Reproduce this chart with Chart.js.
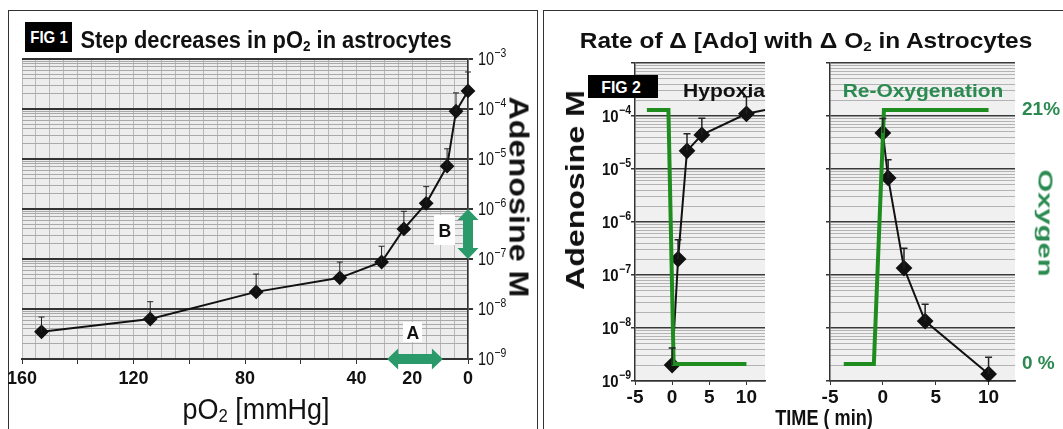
<!DOCTYPE html>
<html>
<head>
<meta charset="utf-8">
<script src="https://cdn.jsdelivr.net/npm/chart.js@4/dist/chart.umd.min.js"></script>
<style>
  body { margin: 0; width: 1063px; height: 429px; overflow: hidden; position: relative; background: #fff;
         font-family: 'Liberation Sans', Arial, sans-serif; }
  .wrap { position: absolute; }
  .panel { position: absolute; border: 1px solid #333; border-bottom: none; }
  .blk { position: absolute; }
  .lbl { position: absolute; left: 0; top: 0; white-space: nowrap; line-height: 1; }
  .lbl sub { font-size: 0.62em; vertical-align: -0.22em; line-height: 0; }
</style>
</head>
<body>
<div class="panel" style="left:8px;top:10px;width:528px;height:430px"></div>
<div class="panel" style="left:543px;top:10px;width:530px;height:430px"></div>

<div class="wrap" style="left:0;top:0"><canvas id="c1" width="540" height="429"></canvas></div>
<div class="wrap" style="left:545px;top:0"><canvas id="c2" width="270" height="429"></canvas></div>
<div class="wrap" style="left:815px;top:0"><canvas id="c3" width="248" height="429"></canvas></div>

<script>
// FIG 1: adenosine vs pO2 (step decreases)
const pO2 = [153, 114, 76, 46, 31, 23, 15, 7.5, 4.3, 0];
const ado1 = [3.5e-9, 6.3e-9, 2.2e-8, 4.2e-8, 8.7e-8, 4.0e-7, 1.3e-6, 7.2e-6, 9.0e-5, 2.3e-4];
const ado1Err = [6.9e-9, 1.4e-8, 5.0e-8, 8.7e-8, 1.8e-7, 9.0e-7, 2.8e-6, 1.6e-5, 2.1e-4, 5.5e-4];
const pO2Labels = [160, 120, 80, 40, 20, 0];

// FIG 2: hypoxia
const hypT = [0, 0.8, 2, 4, 10, 12.5];
const hypAdo = [2.0e-9, 2.0e-7, 2.2e-5, 4.4e-5, 1.1e-4, 1.3e-4];
const hypErr = [4.2e-9, 4.6e-7, 4.6e-5, 9.1e-5, 2.3e-4, null];
const hypO2T = [-3.4, -0.5, 0.2, 10];
const hypO2 = [21, 21, 0, 0];

// FIG 2: re-oxygenation
const reoT = [0, 0.5, 2, 4, 10];
const reoAdo = [4.8e-5, 6.8e-6, 1.35e-7, 1.35e-8, 1.35e-9];
const reoErr = [9.0e-5, 1.5e-5, 3.2e-7, 2.8e-8, 2.8e-9];
const reoO2T = [-3.7, -0.85, 0.1, 10];
const reoO2 = [0, 0, 21, 21];

const timeTicks = [-5, 0, 5, 10];
const o2Ticks = [0, 21];
const o2Labels = ['0 %', '21%'];
const decades = [-9, -8, -7, -6, -5, -4];
const fig1Exp = [-9, -8, -7, -6, -5, -4, -3];
const fig2Exp = [-9, -8, -7, -6, -5, -4];

// arrows A and B on FIG 1 (data units)
const arrowA = { x: [29, 9], y: [1e-9, 1e-9] };
const arrowB = { x: [0, 0], y: [1e-6, 1e-7] };

const FONT = "'Liberation Sans Narrow', 'Liberation Sans', Arial, sans-serif";
const GREEN_LINE = '#1e8c1e';
const GREEN_TXT = '#2a8a50';

// log grid: 1..9 per decade plus the top
const logTicks = [];
decades.forEach(e => { for (let m = 1; m <= 9; m++) logTicks.push(m * Math.pow(10, e)); });
logTicks.push(1e-3);
const pO2Grid = [];
for (let v = 0; v <= 160; v += 5) pO2Grid.push(v);

function isDecade(v) { const l = Math.log10(v); return Math.abs(l - Math.round(l)) < 1e-6; }
function tv(c) { return c.tick ? c.tick.value : 1; }

const plotBg = {
  id: 'plotBg',
  beforeDraw(chart, args, opts) {
    const a = chart.chartArea, ctx = chart.ctx;
    ctx.save();
    ctx.fillStyle = opts.color || '#eee';
    ctx.fillRect(a.left, a.top, a.right - a.left, a.bottom - a.top);
    ctx.restore();
  }
};

// "10" with a raised exponent, placed at each decade of the log axis
const powTicks = {
  id: 'powTicks',
  afterDraw(chart, args, opts) {
    if (!opts.exps) return;
    const ctx = chart.ctx, s = chart.scales.y;
    const w = opts.weight || 'normal', size = opts.size, es = Math.round(size * 0.72), k = opts.squeeze || 1;
    ctx.save();
    ctx.fillStyle = '#111';
    ctx.textBaseline = 'middle';
    ctx.textAlign = 'left';
    opts.exps.forEach(e => {
      const y = s.getPixelForValue(Math.pow(10, e));
      const ex = String(e).replace('-', '\u2212');
      ctx.font = w + ' ' + size + 'px ' + FONT;
      const w1 = ctx.measureText('10').width;
      ctx.font = w + ' ' + es + 'px ' + FONT;
      const w2 = ctx.measureText(ex).width;
      const x = opts.align === 'right' ? opts.x - k * (w1 + w2 + 0.5) : opts.x;
      ctx.save();
      ctx.translate(x, y);
      ctx.scale(k, 1);
      ctx.font = w + ' ' + size + 'px ' + FONT;
      ctx.fillText('10', 0, 1);
      ctx.font = w + ' ' + es + 'px ' + FONT;
      ctx.fillText(ex, w1 + 0.5, -size * 0.32);
      ctx.restore();
    });
    ctx.restore();
  }
};

const errorBars = {
  id: 'errorBars',
  afterDatasetsDraw(chart) {
    const ctx = chart.ctx;
    chart.data.datasets.forEach((ds, i) => {
      if (!ds.errHi) return;
      const meta = chart.getDatasetMeta(i);
      const ys = chart.scales[meta.yAxisID];
      ctx.save();
      ctx.strokeStyle = '#222';
      ctx.lineWidth = ds.errWidth || 1;
      meta.data.forEach((pt, j) => {
        const hi = ds.errHi[j];
        if (hi == null) return;
        const top = ys.getPixelForValue(hi);
        ctx.beginPath();
        ctx.moveTo(pt.x, pt.y); ctx.lineTo(pt.x, top);
        ctx.moveTo(pt.x - ds.errCap, top); ctx.lineTo(pt.x + ds.errCap, top);
        ctx.stroke();
      });
      ctx.restore();
    });
  }
};

const arrows = {
  id: 'arrows',
  afterDraw(chart, args, opts) {
    const ctx = chart.ctx, xs = chart.scales.x, ys = chart.scales.y;
    (opts.items || []).forEach(a => {
      const x0 = xs.getPixelForValue(a.x[0]), y0 = ys.getPixelForValue(a.y[0]);
      const x1 = xs.getPixelForValue(a.x[1]), y1 = ys.getPixelForValue(a.y[1]);
      const L = Math.hypot(x1 - x0, y1 - y0), dx = (x1 - x0) / L, dy = (y1 - y0) / L;
      const nx = -dy, ny = dx, sw = 5, hw = 10.5, hl = 11;
      const pts = [[0, 0], [hl, -hw], [hl, -sw], [L - hl, -sw], [L - hl, -hw], [L, 0],
                   [L - hl, hw], [L - hl, sw], [hl, sw], [hl, hw]];
      ctx.save();
      ctx.fillStyle = '#2b9a6a';
      ctx.beginPath();
      pts.forEach(([u, v], k) => {
        const px = x0 + u * dx + v * nx, py = y0 + u * dy + v * ny;
        k ? ctx.lineTo(px, py) : ctx.moveTo(px, py);
      });
      ctx.closePath();
      ctx.fill();
      ctx.restore();
    });
  }
};

const base = { responsive: false, animation: false, events: [] };

// ---------- FIG 1 ----------
new Chart(document.getElementById('c1'), {
  type: 'line',
  data: {
    datasets: [{
      data: pO2.map((x, i) => ({ x: x, y: ado1[i] })),
      borderColor: '#111', borderWidth: 2, tension: 0, clip: false,
      pointStyle: 'rectRot', pointRadius: 6, pointBackgroundColor: '#111', pointBorderColor: '#111',
      errHi: ado1Err, errCap: 3, errWidth: 1
    }]
  },
  options: Object.assign({}, base, {
    layout: { padding: { left: 22, top: 59, right: 0, bottom: 0 } },
    plugins: { legend: { display: false }, tooltip: { enabled: false },
               plotBg: { color: '#ededed' }, arrows: { items: [arrowA, arrowB] },
               powTicks: { exps: fig1Exp, x: 478, align: 'left', size: 18, squeeze: 0.8 } },
    scales: {
      x: {
        type: 'linear', reverse: true, min: 0, max: 160,
        afterBuildTicks: s => { s.ticks = pO2Grid.map(v => ({ value: v })); },
        afterFit: s => { s.height = 70; },
        grid: { color: '#b9b9b9', lineWidth: 1, tickLength: 5,
                tickColor: c => tv(c) % 20 === 0 ? '#333' : 'rgba(0,0,0,0)' },
        border: { color: '#333', width: 2 },
        ticks: { autoSkip: false, maxRotation: 0, padding: 4, color: '#111',
                 font: { family: FONT, size: 18, weight: 'bold' },
                 callback: v => pO2Labels.includes(v) ? String(v) : '' }
      },
      y: {
        type: 'logarithmic', position: 'right', min: 1e-9, max: 1e-3,
        afterBuildTicks: s => { s.ticks = logTicks.map(v => ({ value: v })); },
        afterFit: s => { s.width = 72; },
        grid: { color: c => isDecade(tv(c)) ? '#333' : '#a9a9a9',
                lineWidth: c => isDecade(tv(c)) ? 2 : 1, tickLength: 5,
                tickColor: c => isDecade(tv(c)) ? '#333' : 'rgba(0,0,0,0)' },
        border: { color: '#333', width: 1.5 },
        ticks: { display: false }
      }
    }
  }),
  plugins: [plotBg, errorBars, arrows, powTicks]
});

// ---------- FIG 2 helpers ----------
function timeAxis() {
  return {
    type: 'linear', min: -5, max: 12.5,
    afterBuildTicks: s => { s.ticks = timeTicks.map(v => ({ value: v })); },
    afterFit: s => { s.height = 48; },
    grid: { drawOnChartArea: false, tickLength: 4, color: '#333' },
    border: { color: '#333', width: 1.5 },
    ticks: { autoSkip: false, maxRotation: 0, padding: 1, color: '#111',
             font: { family: FONT, size: 19, weight: 'bold' } }
  };
}
function adoAxis(width) {
  return {
    type: 'logarithmic', position: 'left', min: 1e-9, max: 1e-3,
    afterBuildTicks: s => { s.ticks = logTicks.map(v => ({ value: v })); },
    afterFit: s => { s.width = width; },
    grid: { color: c => isDecade(tv(c)) ? '#3a3a3a' : '#b3b3b3',
            lineWidth: c => isDecade(tv(c)) ? 1.5 : 1, tickLength: 4,
            tickColor: c => isDecade(tv(c)) ? '#333' : 'rgba(0,0,0,0)' },
    border: { color: '#333', width: 1.5 },
    ticks: { display: false }
  };
}
function o2Axis(show) {
  return {
    type: 'linear', position: 'right', display: show, min: -1.41, max: 24.89,
    afterBuildTicks: s => { s.ticks = o2Ticks.map(v => ({ value: v })); },
    afterFit: s => { s.width = 48; },
    grid: { display: false, drawTicks: false },
    border: { display: false },
    ticks: { autoSkip: false, padding: 7, color: GREEN_TXT,
             font: { family: FONT, size: 19, weight: 'bold' },
             callback: v => o2Labels[o2Ticks.indexOf(v)] }
  };
}
function o2Set(t, o2) {
  return { data: t.map((x, i) => ({ x: x, y: o2[i] })), yAxisID: 'o2', clip: false,
           borderColor: GREEN_LINE, borderWidth: 4, pointRadius: 0, tension: 0 };
}
function adoSet(t, ado, err, radii) {
  return { data: t.map((x, i) => ({ x: x, y: ado[i] })), yAxisID: 'y', clip: false,
           borderColor: '#111', borderWidth: 2, tension: 0,
           pointStyle: 'rectRot', pointRadius: radii, pointBackgroundColor: '#111', pointBorderColor: '#111',
           errHi: err, errCap: 3.5, errWidth: 1.5 };
}

// ---------- FIG 2: hypoxia ----------
new Chart(document.getElementById('c2'), {
  type: 'line',
  data: { datasets: [o2Set(hypO2T, hypO2), adoSet(hypT, hypAdo, hypErr, [7, 7, 7, 7, 7, 0])] },
  options: Object.assign({}, base, {
    layout: { padding: { left: 0, top: 63, right: 2, bottom: 0 } },
    plugins: { legend: { display: false }, tooltip: { enabled: false }, plotBg: { color: '#f0f0f0' },
               powTicks: { exps: fig2Exp, x: 86, align: 'right', size: 17, weight: 'bold', squeeze: 0.88 } },
    scales: { x: timeAxis(), y: adoAxis(90), o2: o2Axis(false) }
  }),
  plugins: [plotBg, errorBars, powTicks]
});

// ---------- FIG 2: re-oxygenation ----------
new Chart(document.getElementById('c3'), {
  type: 'line',
  data: { datasets: [o2Set(reoO2T, reoO2), adoSet(reoT, reoAdo, reoErr, 7)] },
  options: Object.assign({}, base, {
    layout: { padding: { left: 5, top: 63, right: 0, bottom: 0 } },
    plugins: { legend: { display: false }, tooltip: { enabled: false }, plotBg: { color: '#f0f0f0' } },
    scales: { x: timeAxis(), y: adoAxis(10), o2: o2Axis(true) }
  }),
  plugins: [plotBg, errorBars]
});

// ---------- text and boxes ----------
function addBox(x, y, w, h, bg) {
  const d = document.createElement('div');
  d.className = 'blk';
  Object.assign(d.style, { left: x + 'px', top: y + 'px', width: w + 'px', height: h + 'px', background: bg });
  document.body.appendChild(d);
}
function addText(html, cx, cy, w, size, o) {
  o = o || {};
  const d = document.createElement('div');
  d.className = 'lbl';
  d.innerHTML = html;
  d.style.fontSize = size + 'px';
  d.style.fontWeight = o.weight || 'bold';
  d.style.color = o.color || '#111';
  document.body.appendChild(d);
  const k = w / d.offsetWidth;
  d.style.left = cx + 'px';
  d.style.top = cy + 'px';
  d.style.transform = 'translate(-50%,-50%) rotate(' + (o.rot || 0) + 'deg) scaleX(' + k + ')';
}

addBox(25, 22, 47, 30, '#000');
addText('FIG 1', 48.5, 37, 38, 17, { color: '#fff' });
addText('Step decreases in pO<sub>2</sub> in astrocytes', 265.5, 40, 371, 24);
addText('pO<sub>2</sub> [mmHg]', 256, 409, 147, 29, { weight: 'normal' });
addText('Adenosine M', 518, 197, 201, 27, { rot: 90 });

addBox(403, 322, 19, 20, '#fff');
addText('A', 412.5, 332, 13, 19);
addBox(434, 215, 21, 30, '#fff');
addText('B', 444.5, 230, 13, 19);

addText('Rate of \u0394 [Ado] with \u0394 O<sub>2</sub> in Astrocytes', 805.5, 41, 453, 22);
addBox(588, 75, 70, 23, '#000');
addText('FIG 2', 621, 86.5, 40, 17, { color: '#fff' });
addText('Hypoxia', 724, 90, 82, 19);
addText('Re-Oxygenation', 922.5, 90, 161, 19, { color: GREEN_TXT });
addText('Adenosine M', 574.5, 190, 200, 26, { rot: -90 });
addText('Oxygen', 1046, 223, 107, 21, { rot: 90, color: GREEN_TXT });
addText('TIME ( min)', 824, 418, 98, 22);
</script>
</body>
</html>
